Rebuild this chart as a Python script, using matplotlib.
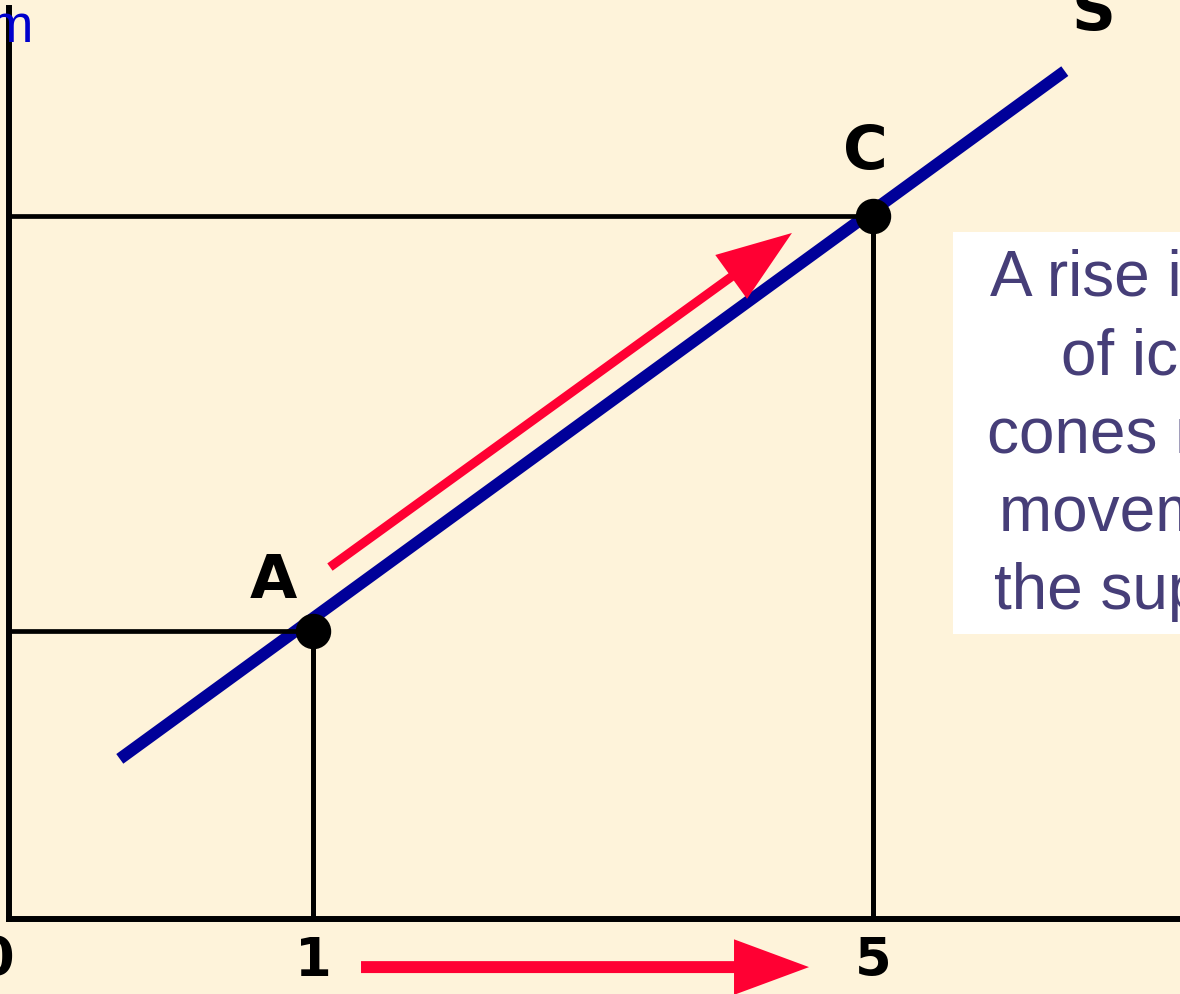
import matplotlib
matplotlib.use("Agg")
import matplotlib.pyplot as plt
from matplotlib.patches import FancyArrowPatch, Rectangle

# points on the supply curve (quantity of cones, price)
point_names = ["A", "C"]
quantity = [1, 5]
price = [1.0, 2.44]
tick_labels = ["1", "5"]

# supply curve S
supply_q = [-0.38, 6.37]
supply_p = [0.556, 2.944]

# movement along the curve, and the rise in quantity under the axis
move_q = [1.121, 4.421]
move_p = [1.222, 2.382]
qty_arrow_q = [1.343, 4.543]
qty_arrow_p = [-0.167, -0.167]

note = "A rise in the price\nof ice cream\ncones results in a\nmovement along\nthe supply curve."

bg = "#FEF3DA"
blue = "#000099"
red = "#FF0033"
note_col = "#463E78"

fig = plt.figure(figsize=(11.8, 9.95), dpi=100, facecolor=bg)
ax = fig.add_axes([9 / 1180, 75 / 995, 1.0, 911 / 995])
ax.set_facecolor(bg)
ax.patch.set_visible(False)

xmin = 1 - 304 / 140
ax.set_xlim(xmin, xmin + 1180 / 140)
ax.set_ylim(0, 911 / 288)

for s in ["top", "right"]:
    ax.spines[s].set_visible(False)
for s in ["left", "bottom"]:
    ax.spines[s].set_linewidth(4.3)
    ax.spines[s].set_capstyle("projecting")
ax.set_yticks([])
ax.set_xticks(quantity)
ax.set_xticklabels(tick_labels, fontsize=38, fontweight="bold", family="DejaVu Sans")
ax.tick_params(axis="x", length=0, pad=11)

# supply curve
ax.plot(supply_q, supply_p, color=blue, lw=8.6, solid_capstyle="butt", zorder=2)

# guide lines to the axes
ax.hlines(price, xmin, quantity, color="black", lw=3.4, zorder=3)
ax.vlines(quantity, 0, price, color="black", lw=3.6, zorder=3)
ax.plot(quantity, price, "o", color="black", ms=24.5, zorder=5)

offsets = [(-28.8, 36), (-5.8, 46.8)]
for name, q, p, off in zip(point_names, quantity, price, offsets):
    ax.annotate(name, (q, p), xytext=off, textcoords="offset points",
                ha="center", va="center", fontsize=44, fontweight="bold",
                annotation_clip=False)
ax.annotate("S", (supply_q[1], supply_p[1]), xytext=(21, 42), textcoords="offset points",
            ha="center", va="center", fontsize=44, fontweight="bold",
            annotation_clip=False)
ax.annotate("0", (xmin, 0), xytext=(-9.4, -29), textcoords="offset points",
            ha="center", va="center", fontsize=38, fontweight="bold",
            annotation_clip=False)

# red arrows
arr = FancyArrowPatch((move_q[0], move_p[0]), (move_q[1], move_p[1]),
                      arrowstyle="simple,head_width=39,head_length=54,tail_width=6.5",
                      mutation_scale=1, shrinkA=0, shrinkB=0,
                      color=red, lw=0, zorder=4)
ax.add_patch(arr)
arr2 = FancyArrowPatch((qty_arrow_q[0], qty_arrow_p[0]), (qty_arrow_q[1], qty_arrow_p[1]),
                       arrowstyle="simple,head_width=40,head_length=54,tail_width=8.6",
                       mutation_scale=1, shrinkA=0, shrinkB=0,
                       color=red, lw=0, zorder=4, clip_on=False)
ax.add_patch(arr2)

# y axis title, mostly cut off on the left
fig.text(33 / 1180, 1 - 42 / 995, "Price of ice cream", ha="right", va="baseline",
         fontsize=38, color="#0000CC", family="Liberation Sans")

# note box on the right
fig.patches.append(Rectangle((953 / 1180, 360 / 995), 0.3, 402 / 995,
                             transform=fig.transFigure, facecolor="white",
                             edgecolor="none", zorder=1))
fig.text(1235 / 1180, 1 - 609 / 995, note, ha="center", va="baseline",
         fontsize=46, color=note_col, family="Liberation Sans",
         linespacing=1.39, multialignment="center")

fig.savefig("out.png", dpi=100, facecolor=bg)
